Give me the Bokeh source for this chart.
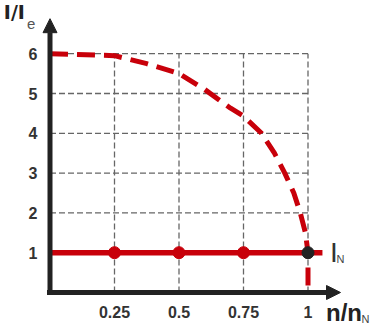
from bokeh.plotting import figure
from bokeh.models import Arrow, NormalHead, Range1d
from bokeh.core.properties import value
from bokeh.embed import file_html
from bokeh.resources import INLINE

# ---- data ----
x_ticks = [0.25, 0.5, 0.75, 1]
x_tick_labels = ["0.25", "0.5", "0.75", "1"]
y_ticks = [1, 2, 3, 4, 5, 6]
y_tick_labels = ["1", "2", "3", "4", "5", "6"]

# max current vs speed (dashed curve)
curve_x = [0, 0.25, 0.375, 0.5, 0.6, 0.7, 0.75, 0.82, 0.87, 0.91, 0.945, 0.97, 0.99, 1.0, 1.0]
curve_y = [6, 5.95, 5.75, 5.5, 5.1, 4.63, 4.43, 4.0, 3.5, 3.0, 2.5, 2.0, 1.5, 1.0, 0.0]

# rated current line
rated_x = [0, 1.056]
rated_y = [1, 1]
dot_x = [0.25, 0.5, 0.75]
dot_y = [1, 1, 1]
point_x = [1]
point_y = [1]

RED = "#c8000a"
DARK = "#222222"
FONT = "Liberation Sans"

p = figure(width=376, height=326, output_backend="svg", toolbar_location=None,
           x_range=Range1d(-0.19186, 1.26550), y_range=Range1d(-0.8543, 7.3367),
           min_border=0)
p.outline_line_color = None
p.axis.visible = False
p.xgrid.visible = False
p.ygrid.visible = False
p.background_fill_color = "white"

# grid (bounded dashed)
x_max = x_ticks[-1]
y_max = y_ticks[-1]
p.segment(x0=x_ticks, y0=[0] * len(x_ticks), x1=x_ticks, y1=[y_max] * len(x_ticks),
          line_color="#666666", line_width=1.3, line_dash="6 3")
p.segment(x0=[0] * len(y_ticks), y0=y_ticks, x1=[x_max] * len(y_ticks), y1=y_ticks,
          line_color="#666666", line_width=1.3, line_dash="6 3")

# tick labels
p.text(x=x_ticks, y=[-0.5025] * len(x_ticks), text=x_tick_labels,
       text_font=value(FONT), text_font_style="bold", text_font_size="16px",
       text_color="#333333", text_align="center", text_baseline="middle")
p.text(x=[-0.0484] * len(y_ticks), y=y_ticks, text=y_tick_labels,
       text_font=value(FONT), text_font_style="bold", text_font_size="16px",
       text_color="#333333", text_align="right", text_baseline="middle")

# dashed curve
p.line(curve_x, curve_y, line_color=RED, line_width=5, line_dash="18 9")

# rated line and dots
p.line(rated_x, rated_y, line_color=RED, line_width=5.5)
p.scatter(dot_x, dot_y, size=12, fill_color=RED, line_color=RED)
p.scatter(point_x, point_y, size=12, fill_color=DARK, line_color=DARK)

# axes with arrows
p.add_layout(Arrow(end=NormalHead(size=14, fill_color=DARK, line_color=DARK, line_width=1),
                   x_start=-0.0116, y_start=0, x_end=1.126, y_end=0,
                   line_color=DARK, line_width=5))
p.add_layout(Arrow(end=NormalHead(size=14, fill_color=DARK, line_color=DARK, line_width=1),
                   x_start=0, y_start=-0.05, x_end=0, y_end=6.88,
                   line_color=DARK, line_width=5))

# axis titles and rated-current label
def lab(x, y, text, size, bold=False, color=DARK, font=FONT):
    p.text(x=[x], y=[y], text=[text], text_font=value(font), text_font_size=size,
           text_font_style="bold" if bold else "normal", text_color=color,
           text_align="left", text_baseline="middle")

lab(-0.179, 7.038, "I/I", "19px", bold=True, font="DejaVu Sans")
lab(-0.0891, 6.740, "e", "15px", color="#555555")
lab(1.0698, -0.4925, "n/n", "24px", bold=True)
lab(1.2074, -0.658, "N", "11px", color="#444444")
lab(1.085, 1.0, "I", "28px", color="#333333")
lab(1.110, 0.849, "N", "11px", color="#444444")

open("out.html", "w").write(file_html(p, INLINE))
